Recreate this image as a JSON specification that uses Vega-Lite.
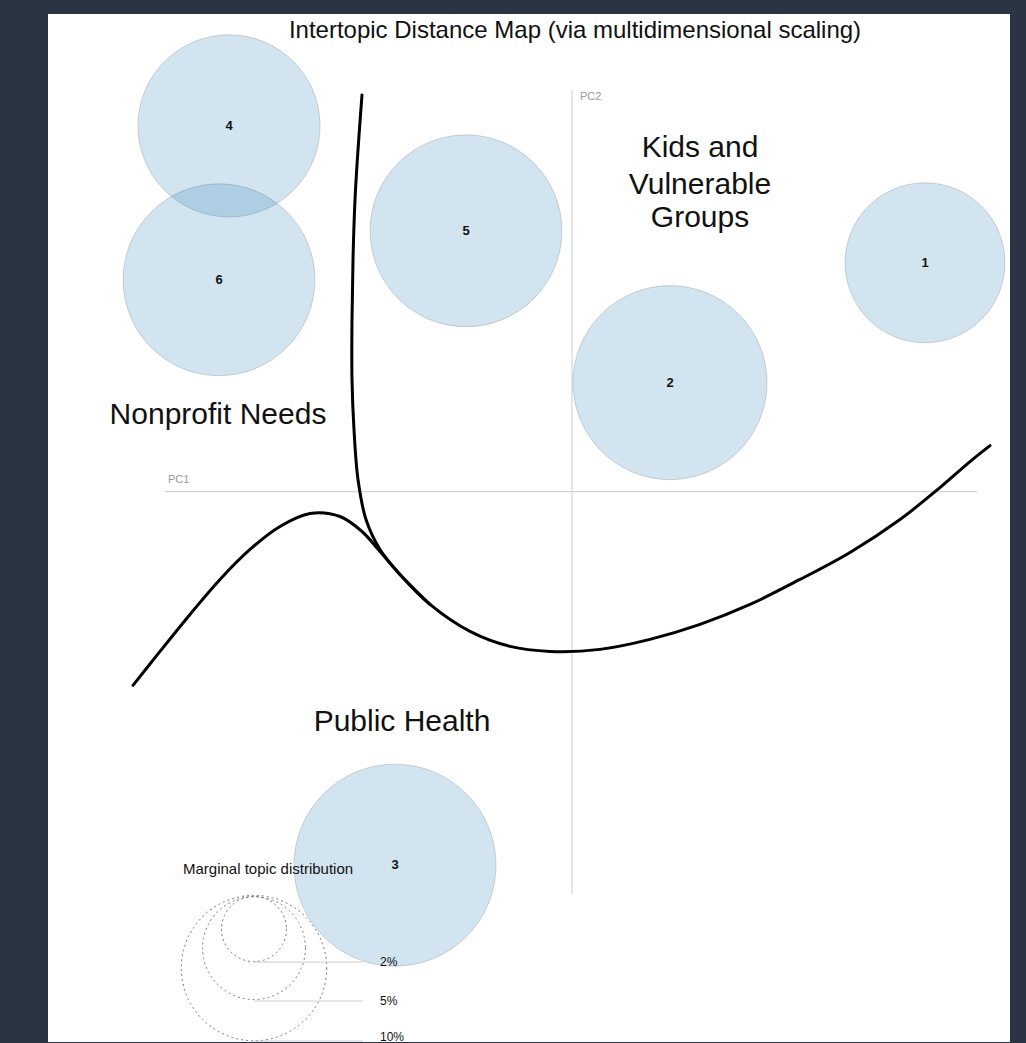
{
  "$schema": "https://vega.github.io/schema/vega-lite/v6.json",
  "width": 1026,
  "height": 1043,
  "autosize": {"type": "fit", "contains": "padding"},
  "padding": {"left": 48, "top": 14, "right": 16, "bottom": 0},
  "background": "#2a3442",
  "view": {"fill": "white", "stroke": null},
  "config": {"font": "Liberation Sans"},
  "datasets": {
    "axes": [
      {"x": -0.407, "x2": 0.405, "y": 0, "y2": 0},
      {"x": 0, "x2": 0, "y": 0.402, "y2": -0.403}
    ],
    "axislabels": [
      {"x": -0.404, "y": 0.012, "text": "PC1"},
      {"x": 0.008, "y": 0.395, "text": "PC2"}
    ],
    "topics": [
      {"topic": "1", "x": 0.353, "y": 0.229, "pct": 12.1},
      {"topic": "2", "x": 0.098, "y": 0.109, "pct": 17.8},
      {"topic": "3", "x": -0.177, "y": -0.374, "pct": 19.3},
      {"topic": "4", "x": -0.343, "y": 0.366, "pct": 15.7},
      {"topic": "5", "x": -0.106, "y": 0.261, "pct": 17.4},
      {"topic": "6", "x": -0.353, "y": 0.212, "pct": 17.4}
    ],
    "curves": [
      {"curve": "A", "i": 1, "x": -0.210, "y": 0.397},
      {"curve": "A", "i": 2, "x": -0.214, "y": 0.342},
      {"curve": "A", "i": 3, "x": -0.217, "y": 0.292},
      {"curve": "A", "i": 4, "x": -0.219, "y": 0.232},
      {"curve": "A", "i": 5, "x": -0.220, "y": 0.172},
      {"curve": "A", "i": 6, "x": -0.220, "y": 0.112},
      {"curve": "A", "i": 7, "x": -0.218, "y": 0.062},
      {"curve": "A", "i": 8, "x": -0.214, "y": 0.012},
      {"curve": "A", "i": 9, "x": -0.206, "y": -0.028},
      {"curve": "A", "i": 10, "x": -0.192, "y": -0.058},
      {"curve": "A", "i": 11, "x": -0.172, "y": -0.083},
      {"curve": "A", "i": 12, "x": -0.142, "y": -0.113},
      {"curve": "A", "i": 13, "x": -0.102, "y": -0.140},
      {"curve": "A", "i": 14, "x": -0.062, "y": -0.155},
      {"curve": "A", "i": 15, "x": -0.022, "y": -0.160},
      {"curve": "A", "i": 16, "x": 0.028, "y": -0.158},
      {"curve": "A", "i": 17, "x": 0.078, "y": -0.148},
      {"curve": "A", "i": 18, "x": 0.128, "y": -0.133},
      {"curve": "A", "i": 19, "x": 0.178, "y": -0.113},
      {"curve": "A", "i": 20, "x": 0.228, "y": -0.088},
      {"curve": "A", "i": 21, "x": 0.278, "y": -0.061},
      {"curve": "A", "i": 22, "x": 0.328, "y": -0.028},
      {"curve": "A", "i": 23, "x": 0.368, "y": 0.004},
      {"curve": "A", "i": 24, "x": 0.398, "y": 0.030},
      {"curve": "A", "i": 25, "x": 0.418, "y": 0.046},
      {"curve": "B", "i": 1, "x": -0.439, "y": -0.194},
      {"curve": "B", "i": 2, "x": -0.412, "y": -0.160},
      {"curve": "B", "i": 3, "x": -0.382, "y": -0.123},
      {"curve": "B", "i": 4, "x": -0.352, "y": -0.088},
      {"curve": "B", "i": 5, "x": -0.322, "y": -0.058},
      {"curve": "B", "i": 6, "x": -0.292, "y": -0.035},
      {"curve": "B", "i": 7, "x": -0.262, "y": -0.022},
      {"curve": "B", "i": 8, "x": -0.232, "y": -0.025},
      {"curve": "B", "i": 9, "x": -0.210, "y": -0.040},
      {"curve": "B", "i": 10, "x": -0.192, "y": -0.060},
      {"curve": "B", "i": 11, "x": -0.172, "y": -0.083},
      {"curve": "B", "i": 12, "x": -0.142, "y": -0.113}
    ],
    "annotations": [
      {"x": 0.128, "y": 0.344, "text": "Kids and"},
      {"x": 0.128, "y": 0.307, "text": "Vulnerable"},
      {"x": 0.128, "y": 0.274, "text": "Groups"},
      {"x": -0.354, "y": 0.077, "text": "Nonprofit Needs"},
      {"x": -0.170, "y": -0.231, "text": "Public Health"}
    ],
    "title": [
      {"x": 0.003, "y": 0.461, "text": "Intertopic Distance Map (via multidimensional scaling)"}
    ],
    "legendcircles": [
      {"x": -0.318, "y": -0.438, "pct": 2},
      {"x": -0.318, "y": -0.457, "pct": 5},
      {"x": -0.318, "y": -0.477, "pct": 10}
    ],
    "legendrules": [
      {"x": -0.318, "x2": -0.209, "y": -0.471},
      {"x": -0.318, "x2": -0.209, "y": -0.510},
      {"x": -0.318, "x2": -0.209, "y": -0.550}
    ],
    "legendlabels": [
      {"x": -0.192, "y": -0.471, "text": "2%"},
      {"x": -0.192, "y": -0.510, "text": "5%"},
      {"x": -0.192, "y": -0.546, "text": "10%"}
    ],
    "legendtitle": [
      {"x": -0.389, "y": -0.378, "text": "Marginal topic distribution"}
    ]
  },
  "encoding": {
    "x": {"field": "x", "type": "quantitative", "scale": {"domain": [-0.524, 0.438], "nice": false, "zero": false}, "axis": null},
    "y": {"field": "y", "type": "quantitative", "scale": {"domain": [-0.551, 0.478], "nice": false, "zero": false}, "axis": null}
  },
  "layer": [
    {
      "data": {"name": "axes"},
      "mark": {"type": "rule", "stroke": "#d4d4d4", "strokeWidth": 1.2},
      "encoding": {"x2": {"field": "x2"}, "y2": {"field": "y2"}}
    },
    {
      "data": {"name": "axislabels"},
      "mark": {"type": "text", "align": "left", "baseline": "middle", "fontSize": 11, "fill": "#9a9a9a"},
      "encoding": {"text": {"field": "text"}}
    },
    {
      "data": {"name": "topics"},
      "mark": {"type": "point", "shape": "circle", "filled": true, "fill": "#1f77b4", "fillOpacity": 0.2, "stroke": "#000000", "strokeOpacity": 0.15, "strokeWidth": 1, "opacity": 1},
      "encoding": {
        "size": {"field": "pct", "type": "quantitative", "scale": {"type": "linear", "domain": [0, 20], "range": [0, 42320], "zero": true}, "legend": null}
      }
    },
    {
      "data": {"name": "topics"},
      "mark": {"type": "text", "align": "center", "baseline": "middle", "fontSize": 13, "fontWeight": "bold", "fill": "#111111"},
      "encoding": {"text": {"field": "topic"}}
    },
    {
      "data": {"name": "curves"},
      "mark": {"type": "line", "stroke": "#000000", "strokeWidth": 3, "interpolate": "catmull-rom", "strokeCap": "round"},
      "encoding": {
        "detail": {"field": "curve"},
        "order": {"field": "i", "type": "quantitative"}
      }
    },
    {
      "data": {"name": "annotations"},
      "mark": {"type": "text", "align": "center", "baseline": "middle", "fontSize": 30, "fill": "#111111"},
      "encoding": {"text": {"field": "text"}}
    },
    {
      "data": {"name": "title"},
      "mark": {"type": "text", "align": "center", "baseline": "middle", "fontSize": 24, "fill": "#111111"},
      "encoding": {"text": {"field": "text"}}
    },
    {
      "data": {"name": "legendcircles"},
      "mark": {"type": "point", "shape": "circle", "filled": false, "stroke": "#777777", "strokeWidth": 1, "strokeDash": [2, 3], "opacity": 1},
      "encoding": {
        "size": {"field": "pct", "type": "quantitative", "legend": null}
      }
    },
    {
      "data": {"name": "legendrules"},
      "mark": {"type": "rule", "stroke": "#cccccc", "strokeWidth": 1},
      "encoding": {"x2": {"field": "x2"}}
    },
    {
      "data": {"name": "legendlabels"},
      "mark": {"type": "text", "align": "left", "baseline": "middle", "fontSize": 12, "fill": "#111111"},
      "encoding": {"text": {"field": "text"}}
    },
    {
      "data": {"name": "legendtitle"},
      "mark": {"type": "text", "align": "left", "baseline": "middle", "fontSize": 15, "fill": "#111111"},
      "encoding": {"text": {"field": "text"}}
    }
  ]
}
